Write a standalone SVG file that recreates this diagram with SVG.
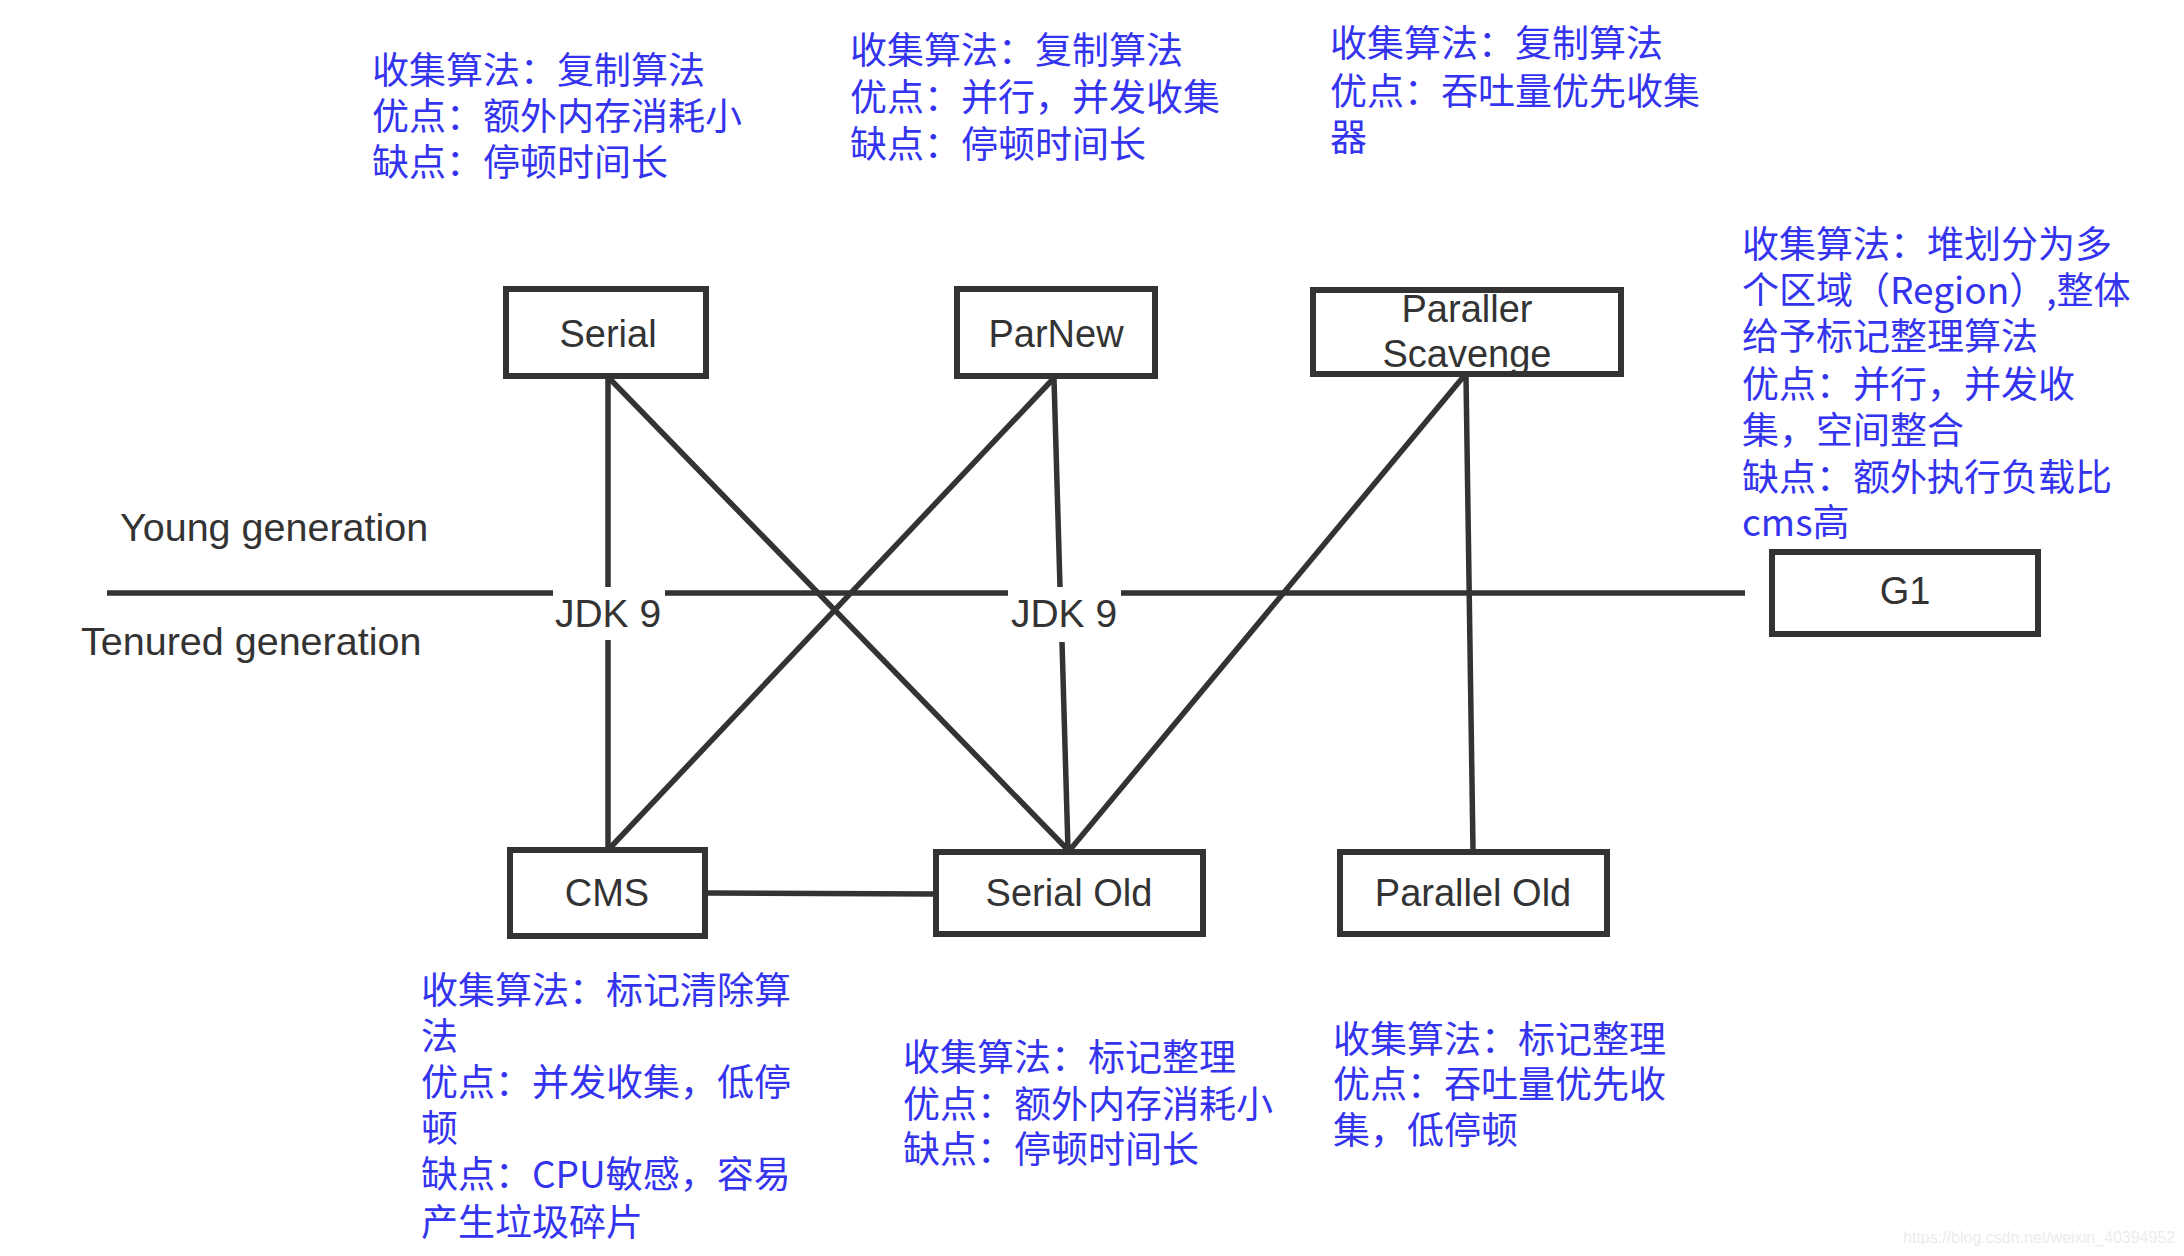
<svg xmlns="http://www.w3.org/2000/svg" width="2184" height="1256" viewBox="0 0 2184 1256">
<style>
.box{fill:#ffffff;stroke:#333333;stroke-width:6}
.ln{stroke:#333333;stroke-width:5.5;fill:none;stroke-linecap:butt}
.lbl{font-family:"Liberation Sans","Noto Sans",Arial,sans-serif;font-size:38px;fill:#333333;text-anchor:middle}
.jdk{font-family:"Liberation Sans","Noto Sans",Arial,sans-serif;font-size:39px;fill:#333333;text-anchor:middle}
.side{font-family:"Liberation Sans","Noto Sans",Arial,sans-serif;font-size:39.5px;fill:#333333}
.note{font-family:"Noto Sans CJK SC","Noto Sans",sans-serif;font-size:37px;fill:#3434ee}
.wm{font-family:"Liberation Sans",Arial,sans-serif;font-size:16px;fill:#ececec}
</style>
<rect width="2184" height="1256" fill="#ffffff"/>
<g id="connectors">
<line class="ln" x1="107" y1="593" x2="553" y2="593"/>
<line class="ln" x1="665" y1="593" x2="1008" y2="593"/>
<line class="ln" x1="1121" y1="593" x2="1745" y2="593"/>
<line class="ln" x1="608" y1="379" x2="608" y2="587"/>
<line class="ln" x1="608" y1="640" x2="608" y2="848"/>
<line class="ln" x1="610" y1="379" x2="1068" y2="850"/>
<line class="ln" x1="1053" y1="379" x2="609" y2="849"/>
<line class="ln" x1="1054" y1="379" x2="1060" y2="587"/>
<line class="ln" x1="1062" y1="642" x2="1068" y2="850"/>
<line class="ln" x1="1464" y1="376" x2="1069" y2="851"/>
<line class="ln" x1="1466" y1="376" x2="1473" y2="850"/>
<line class="ln" x1="708" y1="893" x2="934" y2="894"/>
</g>
<g id="labels">
<text class="side" x="120" y="541">Young generation</text>
<text class="side" x="81" y="655">Tenured generation</text>
<text class="jdk" x="608" y="627">JDK 9</text>
<text class="jdk" x="1064" y="627">JDK 9</text>
</g>
<g id="node-serial">
<rect class="box" x="506" y="289" width="200" height="87"/>
<text class="lbl" x="608" y="347">Serial</text>
</g>
<g id="node-parnew">
<rect class="box" x="957" y="289" width="198" height="87"/>
<text class="lbl" x="1056" y="347">ParNew</text>
</g>
<g id="node-scavenge">
<rect class="box" x="1313" y="290" width="308" height="84"/>
<text class="lbl" x="1467" y="322">Paraller</text>
<text class="lbl" x="1467" y="367">Scavenge</text>
</g>
<g id="node-g1">
<rect class="box" x="1772" y="552" width="266" height="82"/>
<text class="lbl" x="1905" y="604">G1</text>
</g>
<g id="node-cms">
<rect class="box" x="510" y="850" width="195" height="86"/>
<text class="lbl" x="607" y="906">CMS</text>
</g>
<g id="node-serialold">
<rect class="box" x="936" y="852" width="267" height="82"/>
<text class="lbl" x="1069" y="906">Serial Old</text>
</g>
<g id="node-parallelold">
<rect class="box" x="1340" y="852" width="267" height="82"/>
<text class="lbl" x="1473" y="906">Parallel Old</text>
</g>
<g id="note-serial">
<text class="note" x="372" y="84">收集算法：复制算法</text>
<text class="note" x="372" y="130">优点：额外内存消耗小</text>
<text class="note" x="372" y="176">缺点：停顿时间长</text>
</g>
<g id="note-parnew">
<text class="note" x="850" y="64">收集算法：复制算法</text>
<text class="note" x="850" y="111">优点：并行，并发收集</text>
<text class="note" x="850" y="158">缺点：停顿时间长</text>
</g>
<g id="note-scavenge">
<text class="note" x="1330" y="57">收集算法：复制算法</text>
<text class="note" x="1330" y="105">优点：吞吐量优先收集</text>
<text class="note" x="1330" y="151">器</text>
</g>
<g id="note-g1">
<text class="note" x="1742" y="258">收集算法：堆划分为多</text>
<text class="note" x="1742" y="304">个区域（Region）,整体</text>
<text class="note" x="1742" y="350">给予标记整理算法</text>
<text class="note" x="1742" y="398">优点：并行，并发收</text>
<text class="note" x="1742" y="444">集，空间整合</text>
<text class="note" x="1742" y="491">缺点：额外执行负载比</text>
<text class="note" x="1742" y="536">cms高</text>
</g>
<g id="note-cms">
<text class="note" x="421" y="1004">收集算法：标记清除算</text>
<text class="note" x="421" y="1050">法</text>
<text class="note" x="421" y="1096">优点：并发收集，低停</text>
<text class="note" x="421" y="1142">顿</text>
<text class="note" x="421" y="1188">缺点：CPU敏感，容易</text>
<text class="note" x="421" y="1236">产生垃圾碎片</text>
</g>
<g id="note-serialold">
<text class="note" x="903" y="1071">收集算法：标记整理</text>
<text class="note" x="903" y="1118">优点：额外内存消耗小</text>
<text class="note" x="903" y="1163">缺点：停顿时间长</text>
</g>
<g id="note-parallelold">
<text class="note" x="1333" y="1053">收集算法：标记整理</text>
<text class="note" x="1333" y="1098">优点：吞吐量优先收</text>
<text class="note" x="1333" y="1144">集，低停顿</text>
</g>
<text class="wm" x="1903" y="1243">https://blog.csdn.net/weixin_40394952</text>
</svg>
